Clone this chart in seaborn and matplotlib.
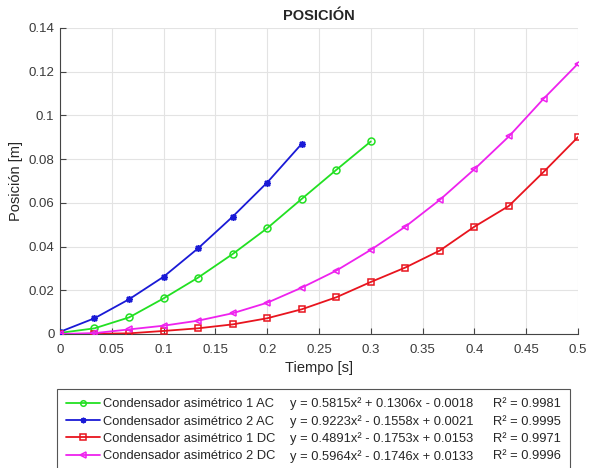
import matplotlib
matplotlib.use("Agg")
import matplotlib.pyplot as plt
import numpy as np
import pandas as pd
import seaborn as sns
from matplotlib.lines import Line2D
from matplotlib.ticker import FuncFormatter, MultipleLocator

# Sample times [s] (camera at 30 fps)
time = [0.0, 0.0333, 0.0667, 0.1, 0.1333, 0.1667, 0.2, 0.2333,
        0.2667, 0.3, 0.3333, 0.3667, 0.4, 0.4333, 0.4667, 0.5]

# Measured positions [m]
pos_ac1 = [0.0005, 0.0026, 0.0076, 0.0163, 0.0258, 0.0366, 0.0484, 0.0618,
           0.0751, 0.0881]
pos_ac2 = [0.0010, 0.0072, 0.0159, 0.0262, 0.0392, 0.0537, 0.0693, 0.0870]
pos_dc1 = [0.0000, 0.0001, 0.0003, 0.0014, 0.0026, 0.0044, 0.0072, 0.0113,
           0.0168, 0.0238, 0.0304, 0.0382, 0.0491, 0.0586, 0.0741, 0.0901]
pos_dc2 = [0.0000, 0.0004, 0.0021, 0.0038, 0.0061, 0.0095, 0.0143, 0.0212,
           0.0290, 0.0385, 0.0491, 0.0614, 0.0754, 0.0904, 0.1076, 0.1237]

names = ["Condensador asimétrico 1 AC", "Condensador asimétrico 2 AC",
         "Condensador asimétrico 1 DC", "Condensador asimétrico 2 DC"]
equations = ["y = 0.5815x² + 0.1306x - 0.0018",
             "y = 0.9223x² - 0.1558x + 0.0021",
             "y = 0.4891x² - 0.1753x + 0.0153",
             "y = 0.5964x² - 0.1746x + 0.0133"]
r2_labels = ["R² = 0.9981", "R² = 0.9995", "R² = 0.9971", "R² = 0.9996"]

colors = ["#22e022", "#1a1ad6", "#e8141e", "#ee22ee"]
markers = ["o", (8, 2, 0), "s", "<"]
series = [pos_ac1, pos_ac2, pos_dc1, pos_dc2]

frames = []
for name, vals in zip(names, series):
    frames.append(pd.DataFrame({"t": time[:len(vals)], "pos": vals, "serie": name}))
df = pd.concat(frames, ignore_index=True)

sns.set_theme(style="ticks")
plt.rcParams["font.family"] = ["Liberation Sans", "DejaVu Sans"]

fig = plt.figure(figsize=(5.89, 4.68), dpi=100)
ax = fig.add_axes([60 / 589, 1 - 334 / 468, 518 / 589, 306 / 468])

handles = []
for name, col, mk in zip(names, colors, markers):
    sub = df[df["serie"] == name]
    sns.lineplot(data=sub, x="t", y="pos", ax=ax, color=col, linewidth=1.3,
                 marker=mk, markersize=5, markerfacecolor="none",
                 markeredgecolor=col, markeredgewidth=1.1, legend=False,
                 zorder=3)
    handles.append(Line2D([], [], color=col, linewidth=1.3, marker=mk,
                          markersize=4, markerfacecolor="none",
                          markeredgecolor=col, markeredgewidth=1.1))

ax.set_xlim(0, 0.5)
ax.set_ylim(0, 0.14)
ax.xaxis.set_major_locator(MultipleLocator(0.05))
ax.yaxis.set_major_locator(MultipleLocator(0.02))
fmt = FuncFormatter(lambda v, p: f"{v:.2f}".rstrip("0").rstrip(".") if abs(v) > 1e-9 else "0")
ax.xaxis.set_major_formatter(fmt)
ax.yaxis.set_major_formatter(fmt)
ax.grid(True, color="#e3e3e3", linewidth=0.8)
ax.set_axisbelow(True)
for s in ["top", "right"]:
    ax.spines[s].set_visible(False)
for s in ["left", "bottom"]:
    ax.spines[s].set_color("#444444")
    ax.spines[s].set_linewidth(0.8)
ax.tick_params(direction="in", length=4, width=0.8, color="#444444",
               labelsize=9.5, labelcolor="#3a3a3a")
ax.tick_params(axis="x", pad=7)
ax.tick_params(axis="y", pad=4)

ax.set_title("POSICIÓN", fontsize=10.5, fontweight="bold", pad=6)
ax.set_xlabel("Tiempo [s]", fontsize=10.5, labelpad=4, color="#262626")
ax.set_ylabel("Posición [m]", fontsize=10.5, labelpad=4, color="#262626")

# Legend box spanning three text columns: name, fitted curve, R²
x0, x1 = 57 / 589, 570 / 589
y_top = 1 - 389 / 468
leg = fig.legend(handles, names, loc="upper left",
                 bbox_to_anchor=(x0, y_top - 0.2, x1 - x0, 0.2), mode="expand",
                 ncol=1, fontsize=9.3, frameon=True, fancybox=False,
                 edgecolor="#555555", framealpha=1, borderpad=0.7,
                 labelspacing=0.42, handlelength=2.6, handletextpad=0.25,
                 borderaxespad=0)
leg.get_frame().set_linewidth(0.8)

fig.canvas.draw()
renderer = fig.canvas.get_renderer()
inv = fig.transFigure.inverted()
for txt, eq, r2 in zip(leg.get_texts(), equations, r2_labels):
    bb = txt.get_window_extent(renderer)
    yc = inv.transform((0, (bb.y0 + bb.y1) / 2))[1]
    fig.text(290 / 589, yc, eq, fontsize=9.3, va="center", ha="left", zorder=10)
    fig.text(493 / 589, yc, r2, fontsize=9.3, va="center", ha="left", zorder=10)

fig.savefig("out.png", dpi=100)
